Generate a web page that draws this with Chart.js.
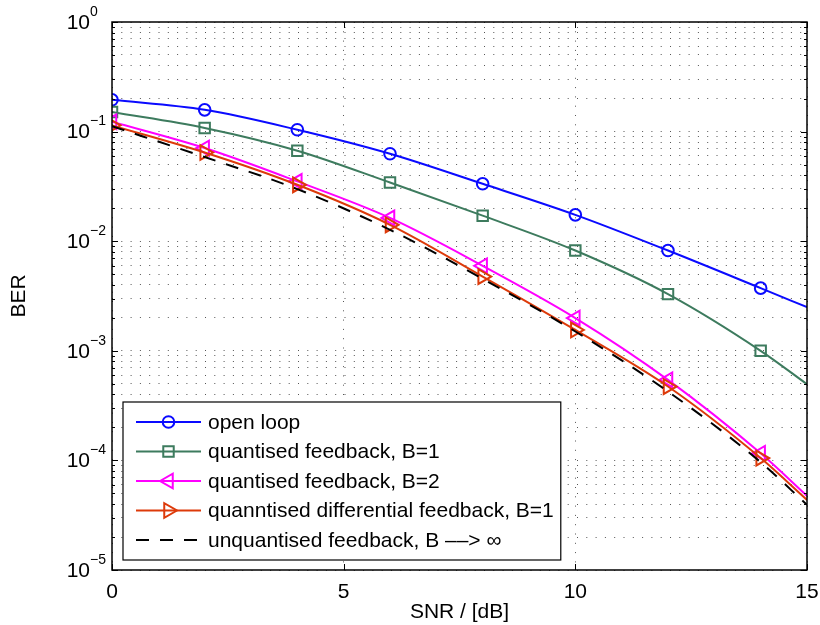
<!DOCTYPE html>
<html>
<head>
<meta charset="utf-8">
<script src="https://cdn.jsdelivr.net/npm/chart.js@4/dist/chart.umd.min.js"></script>
<style>
  body { margin: 0; background: #fff; }
</style>
</head>
<body>
<canvas id="berChart" width="820" height="625"></canvas>
<script>
const FONT = '"Liberation Sans", Arial, Helvetica, sans-serif';

// SNR in dB where the curves were read (markers only on the even ones)
const snr = [0, 2, 4, 6, 8, 10, 12, 14, 15];

// BER values
const openLoop = [0.195, 0.158, 0.104, 0.0628, 0.0334, 0.0174, 0.00822, 0.00373, 0.0025];
const quantB1  = [0.151, 0.108, 0.0669, 0.0343, 0.0171, 0.00822, 0.00329, 0.001, 0.000496];
const quantB2  = [0.123, 0.0708, 0.0351, 0.0163, 0.00596, 0.00199, 0.000543, 0.000116, 0.0000474];
const diffB1   = [0.114, 0.0645, 0.0327, 0.0141, 0.00476, 0.00155, 0.000472, 0.000105, 0.0000436];
const unquant  = [0.112, 0.0586, 0.0299, 0.0127, 0.00454, 0.0015, 0.000425, 0.0000963, 0.0000393];

const seriesNames = [
    'open loop',
    'quantised feedback, B=1',
    'quantised feedback, B=2',
    'quanntised differential feedback, B=1',
    'unquantised feedback, B \u2013\u2013> \u221e'
];

// axis ticks
const xTicks = [0, 5, 10, 15];
const yDecades = [-5, -4, -3, -2, -1, 0];
const yExpLabels = ['\u22125', '\u22124', '\u22123', '\u22122', '\u22121', '0'];

const yTickValues = [];
yDecades.forEach(e => {
    if (e === 0) { yTickValues.push(1); return; }
    for (let k = 1; k <= 9; k++) yTickValues.push(k * Math.pow(10, e));
});

const pts = (ys) => snr.map((s, i) => ({x: s, y: ys[i]}));
const markerRadius = (r) => (c) => (c.raw && c.raw.x % 2 === 0) ? r : 0;

function series(label, data, color, style, r, rot, dash, order) {
    return {
        label: label,
        data: pts(data),
        borderColor: color,
        borderWidth: 2,
        borderDash: dash,
        pointStyle: style,
        rotation: rot,
        pointRadius: style ? markerRadius(r) : 0,
        pointBorderColor: color,
        pointBackgroundColor: 'rgba(0,0,0,0)',
        pointBorderWidth: 2,
        cubicInterpolationMode: 'monotone',
        fill: false,
        order: order,
        legendR: r
    };
}

const datasets = [
    series(seriesNames[0], openLoop, '#0a0aff', 'circle', 5.8, 0, [], 5),
    series(seriesNames[1], quantB1, '#3d7b5e', 'rect', 7.4, 0, [], 4),
    series(seriesNames[2], quantB2, '#ff00ff', 'triangle', 8.5, -90, [], 3),
    series(seriesNames[3], diffB1, '#dd3a0a', 'triangle', 8.5, 90, [], 2),
    series(seriesNames[4], unquant, '#000000', false, 0, 0, [13, 11], 1)
];

const frame = {
    id: 'frame',
    afterDraw(chart) {
        const {ctx, chartArea: a, scales: {x, y}} = chart;
        ctx.save();
        ctx.strokeStyle = '#000';
        ctx.lineWidth = 1.5;
        ctx.strokeRect(a.left, a.top, a.right - a.left, a.bottom - a.top);

        // inward tick marks on all four sides
        ctx.lineWidth = 1;
        ctx.beginPath();
        y.ticks.forEach(t => {
            const py = Math.round(y.getPixelForValue(t.value)) + 0.5;
            const lg = Math.log10(t.value);
            const len = Math.abs(lg - Math.round(lg)) < 1e-9 ? 6 : 3;
            ctx.moveTo(a.left, py); ctx.lineTo(a.left + len, py);
            ctx.moveTo(a.right, py); ctx.lineTo(a.right - len, py);
        });
        x.ticks.forEach(t => {
            const px = Math.round(x.getPixelForValue(t.value)) + 0.5;
            ctx.moveTo(px, a.bottom); ctx.lineTo(px, a.bottom - 6);
            ctx.moveTo(px, a.top); ctx.lineTo(px, a.top + 6);
        });
        ctx.stroke();

        // 10^n labels on the y axis
        ctx.fillStyle = '#000';
        ctx.textBaseline = 'middle';
        yDecades.forEach((e, i) => {
            const py = y.getPixelForValue(Math.pow(10, e));
            ctx.font = '21px ' + FONT;
            ctx.textAlign = 'right';
            ctx.fillText('10', a.left - 22, py + 1);
            ctx.font = '14px ' + FONT;
            ctx.textAlign = 'left';
            ctx.fillText(yExpLabels[i], a.left - 22, py - 10);
        });
        ctx.restore();
    }
};

const boxLegend = {
    id: 'boxLegend',
    afterDraw(chart) {
        const {ctx, chartArea: a} = chart;
        const sets = chart.data.datasets;
        const rowH = 29.5;
        ctx.save();
        ctx.font = '21px ' + FONT;
        const textW = Math.max(...sets.map(d => ctx.measureText(d.label).width));
        const left = a.left + 11;
        const w = 85 + textW + 7;
        const h = 20 + (sets.length - 1) * rowH + 20;
        const top = a.bottom - 10 - h;
        ctx.fillStyle = '#fff';
        ctx.fillRect(left, top, w, h);
        ctx.strokeStyle = '#000';
        ctx.lineWidth = 1.2;
        ctx.strokeRect(left, top, w, h);

        sets.forEach((d, i) => {
            const cy = top + 20 + i * rowH;
            ctx.strokeStyle = d.borderColor;
            ctx.lineWidth = 2;
            ctx.setLineDash(d.borderDash);
            ctx.beginPath();
            ctx.moveTo(left + 13, cy);
            ctx.lineTo(left + 78, cy);
            ctx.stroke();
            ctx.setLineDash([]);
            if (d.pointStyle) {
                ctx.fillStyle = 'rgba(0,0,0,0)';
                Chart.helpers.drawPoint(ctx, {
                    pointStyle: d.pointStyle,
                    rotation: d.rotation,
                    radius: d.legendR,
                    borderWidth: 2
                }, left + 45.5, cy);
            }
            ctx.fillStyle = '#000';
            ctx.textAlign = 'left';
            ctx.textBaseline = 'middle';
            ctx.fillText(d.label, left + 85, cy + 1);
        });
        ctx.restore();
    }
};

Chart.defaults.font.family = FONT;
Chart.defaults.color = '#000';

new Chart(document.getElementById('berChart').getContext('2d'), {
    type: 'line',
    data: { datasets: datasets },
    options: {
        responsive: false,
        animation: false,
        devicePixelRatio: 1,
        layout: { padding: { top: 22, right: 13, left: 0, bottom: 0 } },
        plugins: { legend: { display: false }, tooltip: { enabled: false } },
        scales: {
            x: {
                type: 'linear',
                min: 0,
                max: 15,
                afterBuildTicks: s => { s.ticks = xTicks.map(v => ({value: v})); },
                afterFit: s => { s.height = 55; s.paddingLeft = 0; s.paddingRight = 0; },
                ticks: { padding: 10, font: { size: 21 }, color: '#000', maxRotation: 0 },
                grid: { drawTicks: false, color: '#555', lineWidth: 1 },
                border: { display: false, dash: [1, 8.3] },
                title: { display: true, text: 'SNR / [dB]', font: { size: 21 }, color: '#000', padding: { top: 0, bottom: 0 } }
            },
            y: {
                type: 'logarithmic',
                min: 1e-5,
                max: 1,
                afterBuildTicks: s => { s.ticks = yTickValues.map(v => ({value: v})); },
                afterFit: s => { s.width = 112; s.paddingTop = 0; s.paddingBottom = 0; },
                ticks: { display: false, autoSkip: false },
                grid: { drawTicks: false, color: '#555', lineWidth: 1 },
                border: { display: false, dash: [1, 8.3] },
                title: { display: true, text: 'BER', font: { size: 21 }, color: '#000', padding: { top: 7, bottom: 0 } }
            }
        }
    },
    plugins: [frame, boxLegend]
});
</script>
</body>
</html>
